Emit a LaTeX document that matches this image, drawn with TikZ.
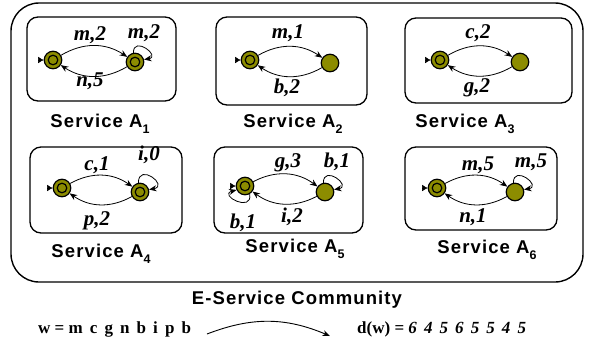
\documentclass[tikz,border=0pt]{standalone}
\usepackage{fontspec}
\setmainfont{Liberation Serif}
\newfontfamily\svcfont[LetterSpace=6]{Liberation Sans}
\usetikzlibrary{arrows.meta,calc}
\definecolor{stateolive}{RGB}{140,140,0}
\newcommand{\svc}[1]{Service A\raisebox{-0.3em}{\fontsize{12.5}{12}\selectfont #1}}
\tikzset{
  px/.style={x=1pt,y=-1pt},
  frame/.style={draw=black,line width=1.4pt},
  svcbox/.style={draw=black,line width=1.3pt,rounded corners=11pt},
  st/.style={circle,draw=black,line width=1.2pt,fill=stateolive,minimum size=17.5pt,inner sep=0pt},
  acc/.style={st,
    path picture={\draw[line width=1.2pt] (path picture bounding box.center) circle (4.8pt);}},
  trans/.style={draw=black,line width=0.8pt,-{Stealth[length=7.5pt,width=6pt]}},
  init/.style={-{Latex[length=5.5pt,width=6.5pt]},line width=0.5pt},
  lbl/.style={font=\fontsize{21}{21}\selectfont\bfseries\itshape,inner sep=0pt},
  svccap/.style={font=\fontsize{18.5}{20}\selectfont\svcfont\bfseries,inner sep=0pt},
  wtext/.style={font=\fontsize{17}{18}\selectfont\bfseries,inner sep=0pt}
}
\begin{document}
\begin{tikzpicture}[px]
\useasboundingbox (0,0) rectangle (589,349);
% community frame
\draw[frame,rounded corners=28pt] (11,3) rectangle (583,282);
% service boxes
\draw[svcbox] (27,17) rectangle (176,101);
\draw[svcbox] (216,17) rectangle (367,105);
\draw[svcbox] (405,18) rectangle (572,103);
\draw[svcbox] (30,147) rectangle (182,233);
\draw[svcbox] (214,147) rectangle (363,233);
\draw[svcbox] (405,147) rectangle (557,230);

% ---- A1
\node[acc] (a1p) at (53,60) {};
\node[acc] (a1q) at (135,62) {};
\draw[init] ($(a1p.west)+(-5.5,0)$) -- (a1p.west);
\draw[trans] (a1p) to[bend left=32] (a1q);
\draw[trans] (a1q) to[bend left=32] (a1p);
\draw[trans] (a1q.100) to[out=90,in=10,looseness=3.6] (a1q.15);
\node[lbl] at (90,35) {m,2};
\node[lbl] at (144,33) {m,2};
\node[lbl] at (90,81) {n,5};
\node[svccap] at (100,124) {\svc{1}};

% ---- A2
\node[acc] (a2p) at (250,60) {};
\node[st] (a2q) at (330,63) {};
\draw[init] ($(a2p.west)+(-5.5,0)$) -- (a2p.west);
\draw[trans] (a2p) to[bend left=32] (a2q);
\draw[trans] (a2q) to[bend left=32] (a2p);
\node[lbl] at (288,33) {m,1};
\node[lbl] at (287,88) {b,2};
\node[svccap] at (293,124) {\svc{2}};

% ---- A3
\node[acc] (a3p) at (440,60) {};
\node[st] (a3q) at (520,62) {};
\draw[init] ($(a3p.west)+(-5.5,0)$) -- (a3p.west);
\draw[trans] (a3p) to[bend left=32] (a3q);
\draw[trans] (a3q) to[bend left=32] (a3p);
\node[lbl] at (478,33) {c,2};
\node[lbl] at (477,88) {g,2};
\node[svccap] at (465,124) {\svc{3}};

% ---- A4
\node[acc] (a4p) at (62,188) {};
\node[acc] (a4q) at (140,192) {};
\draw[init] ($(a4p.west)+(-5.5,0)$) -- (a4p.west);
\draw[trans] (a4p) to[bend left=32] (a4q);
\draw[trans] (a4q) to[bend left=32] (a4p);
\draw[trans] (a4q.100) to[out=90,in=10,looseness=4.2] (a4q.15);
\node[lbl] at (97,165) {c,1};
\node[lbl] at (149,155) {i,0};
\node[lbl] at (97,221) {p,2};
\node[svccap] at (101,254) {\svc{4}};

% ---- A5
\node[acc] (a5p) at (245,186) {};
\node[st] (a5q) at (325,192) {};
\draw[init] ($(a5p.west)+(-5.5,0)$) -- (a5p.west);
\draw[trans] (a5p) to[bend left=32] (a5q);
\draw[trans] (a5q) to[bend left=32] (a5p);
\draw[trans] (a5q.100) to[out=90,in=10,looseness=3.8] (a5q.15);
\draw[trans] (a5p.-60) to[out=-80,in=195,looseness=3.6] (a5p.205);
\node[lbl] at (288,163) {g,3};
\node[lbl] at (337,162) {b,1};
\node[lbl] at (243,223) {b,1};
\node[lbl] at (292,217) {i,2};
\node[svccap] at (295,249) {\svc{5}};

% ---- A6
\node[acc] (a6p) at (437,188) {};
\node[st] (a6q) at (515,192) {};
\draw[init] ($(a6p.west)+(-5.5,0)$) -- (a6p.west);
\draw[trans] (a6p) to[bend left=32] (a6q);
\draw[trans] (a6q) to[bend left=32] (a6p);
\draw[trans] (a6q.100) to[out=90,in=10,looseness=3.8] (a6q.15);
\node[lbl] at (478,165) {m,5};
\node[lbl] at (531,162) {m,5};
\node[lbl] at (473,217) {n,1};
\node[svccap] at (487,250) {\svc{6}};

% community caption and the word mapping
\node[svccap] (comm) at (297,300) {E-Service Community};
\node[wtext,anchor=west] (w) at (38,329) {w = m\, c\, g\, n\, b\, i\, p\, b};
\node[wtext,anchor=west] (dw) at (357,329) {d(w) = \textit{6\, 4\, 5\, 6\, 5\, 5\, 4\, 5}};
\coordinate (arrS) at (207,334);
\coordinate (arrE) at (330,336);
\draw[trans,line width=0.9pt] (arrS) to[bend left=22] (arrE);
\end{tikzpicture}
\end{document}
